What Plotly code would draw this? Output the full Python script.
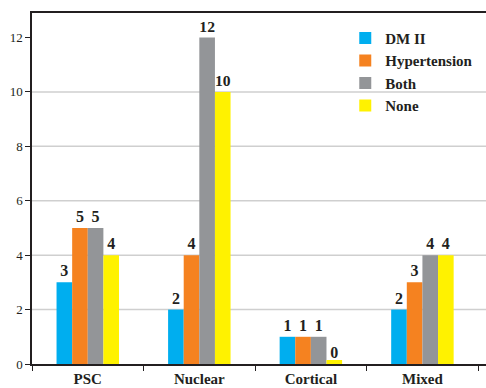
import plotly.graph_objects as go

categories = ["PSC", "Nuclear", "Cortical", "Mixed"]
series_names = ["DM II", "Hypertension", "Both", "None"]
dm2 = [3, 2, 1, 2]
hypertension = [5, 4, 1, 3]
both = [5, 12, 1, 4]
none = [4, 10, 0, 4]
y_ticks = [0, 2, 4, 6, 8, 10, 12]
grid_values = [2, 4, 6, 8, 10]

colors = ["#00AEEF", "#F58220", "#939598", "#FFF200"]
serif = "Liberation Serif"

fig = go.Figure()
for name, vals, col in zip(series_names, [dm2, hypertension, both, none], colors):
    # zero-valued bars get a thin stub in the series colour so they stay visible
    line_w = [8 if v == 0 else 0 for v in vals]
    fig.add_trace(go.Bar(
        x=categories, y=vals, name=name,
        marker=dict(color=col, line=dict(color=col, width=line_w)),
        text=[str(v) for v in vals], textposition="outside",
        textfont=dict(family=serif, size=16, color="#231F20", weight="bold"),
        cliponaxis=False,
    ))

for g in grid_values:
    fig.add_shape(type="line", xref="paper", yref="y", x0=0, x1=1, y0=g, y1=g,
                  line=dict(color="#CFCFCF", width=1.5), layer="below")

fig.update_layout(
    width=486, height=388,
    margin=dict(l=32, r=0, t=13, b=24),
    barmode="group", bargap=0.44, bargroupgap=0,
    plot_bgcolor="white", paper_bgcolor="white",
    font=dict(family=serif, color="#231F20"),
    showlegend=True,
    legend=dict(
        x=0.69, y=0.975, xanchor="left", yanchor="top",
        bgcolor="rgba(0,0,0,0)",
        font=dict(family=serif, size=15, color="#231F20", weight="bold"),
        itemwidth=30, tracegroupgap=0,
    ),
)
fig.update_xaxes(
    range=[-0.5, 3.57], showline=True, linecolor="#231F20", linewidth=1.5,
    mirror=True, ticks="outside", tickson="boundaries", ticklen=5,
    tickcolor="#231F20", tickwidth=1.2, showgrid=False,
    tickfont=dict(family=serif, size=15, color="#231F20", weight="bold"),
)
fig.update_yaxes(
    range=[0, 12.9], tickvals=y_ticks, showline=True, linecolor="#231F20",
    linewidth=1.5, ticks="outside", ticklen=5, tickcolor="#231F20",
    tickwidth=1.2, showgrid=False, zeroline=False,
    tickfont=dict(family=serif, size=13, color="#231F20"),
)

fig.write_html("out.html")
